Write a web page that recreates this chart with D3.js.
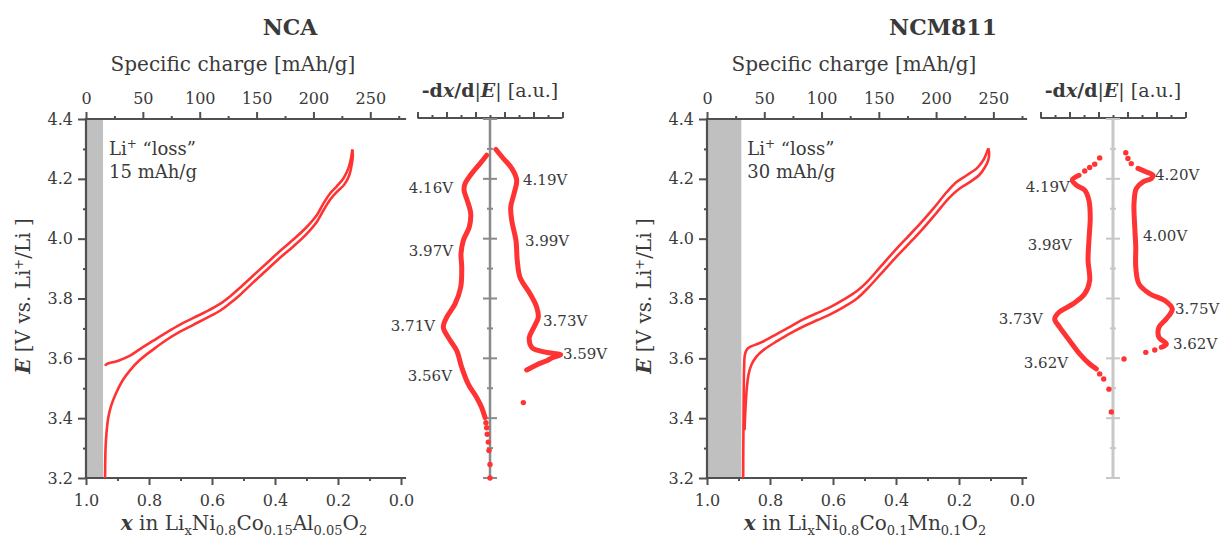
<!DOCTYPE html>
<html>
<head>
<meta charset="utf-8">
<title>NCA / NCM811 charge curves</title>
<script src="https://cdn.jsdelivr.net/npm/d3@7"></script>
<style>
  body { margin: 0; background: #fff; }
  svg text { font-family: Georgia, 'DejaVu Serif', serif; fill: #3a3a3a; }
</style>
</head>
<body>
<svg id="chart" width="1225" height="543"></svg>
<script>
// ---- data: main curves, [specific charge mAh/g, E V]
const ncaCharge = [[16.7,3.575],[18.2,3.581],[28.4,3.592],[38.7,3.609],[47.5,3.631],[59.2,3.659],[71.0,3.687],[82.7,3.713],[94.4,3.735],[106.1,3.757],[117.8,3.782],[126.6,3.807],[135.4,3.836],[147.1,3.877],[158.9,3.918],[170.6,3.959],[182.3,3.997],[194.1,4.039],[202.9,4.078],[208.7,4.117],[214.6,4.151],[220.5,4.175],[226.3,4.201],[230.7,4.235],[233.0,4.268],[234.2,4.298]];
const ncaDischarge = [[234.2,4.298],[234.6,4.275],[233.5,4.245],[231.5,4.212],[227.0,4.180],[221.0,4.158],[214.6,4.130],[208.7,4.094],[202.9,4.056],[194.1,4.016],[182.3,3.974],[170.6,3.936],[158.9,3.895],[147.1,3.854],[135.4,3.812],[126.6,3.784],[117.8,3.759],[106.1,3.735],[94.4,3.712],[82.7,3.689],[71.0,3.662],[59.2,3.630],[47.5,3.595],[38.7,3.560],[32.0,3.525],[26.0,3.480],[22.0,3.440],[19.5,3.400],[18.0,3.350],[17.2,3.300],[16.9,3.250],[16.8,3.200]];
const ncmCharge = [[31.6,3.200],[31.7,3.300],[31.9,3.400],[32.1,3.500],[32.4,3.570],[33.0,3.610],[34.5,3.628],[37.5,3.638],[42.0,3.645],[49.5,3.657],[61.2,3.682],[72.8,3.706],[84.4,3.731],[96.1,3.751],[107.6,3.771],[119.2,3.796],[130.9,3.825],[139.6,3.855],[151.2,3.905],[162.8,3.955],[174.5,4.003],[186.1,4.050],[197.7,4.101],[209.4,4.156],[218.1,4.190],[226.8,4.212],[235.5,4.235],[241.3,4.263],[245.6,4.302]];
const ncmDischarge = [[245.6,4.302],[246.3,4.285],[245.5,4.262],[242.5,4.238],[237.5,4.212],[229.0,4.188],[220.0,4.166],[211.0,4.135],[199.0,4.080],[187.0,4.027],[175.5,3.980],[163.5,3.932],[152.0,3.883],[140.5,3.835],[131.5,3.802],[120.0,3.773],[108.0,3.748],[96.5,3.728],[85.0,3.708],[73.0,3.684],[61.5,3.658],[50.0,3.630],[43.0,3.605],[39.0,3.580],[36.5,3.550],[35.0,3.510],[34.0,3.460],[33.3,3.410],[32.8,3.360]];

// ---- data: -dx/d|E| curves, [E V, value a.u.] (negative = left branch)
const ncaDxLeft = [[4.279,-0.23],[4.251,-0.69],[4.218,-1.26],[4.184,-1.72],[4.162,-1.79],[4.128,-1.57],[4.084,-1.33],[4.039,-1.43],[3.994,-1.84],[3.950,-2.00],[3.905,-1.95],[3.838,-2.02],[3.782,-2.41],[3.737,-2.99],[3.704,-3.22],[3.670,-2.88],[3.626,-2.30],[3.570,-1.95],[3.514,-1.50],[3.469,-0.92],[3.435,-0.57],[3.402,-0.34]];
const ncaDxLeftDots = [[3.385,-0.28],[3.368,-0.23],[3.346,-0.19],[3.320,-0.12],[3.292,-0.07],[3.245,0.0],[3.200,0.0]];
const ncaDxRight = [[4.298,0.41],[4.268,0.92],[4.235,1.50],[4.196,1.84],[4.151,1.66],[4.106,1.43],[4.061,1.50],[3.994,1.79],[3.927,1.88],[3.871,2.07],[3.816,2.76],[3.771,3.22],[3.737,3.33],[3.704,3.03],[3.670,2.71],[3.637,2.88],[3.624,3.50],[3.617,4.30],[3.612,4.87],[3.602,4.30],[3.592,3.91],[3.578,3.20],[3.561,2.53]];
const ncaDxRightDots = [[3.452,2.30]];
const ncmDxLeft = [[4.212,-2.34],[4.196,-2.81],[4.179,-2.53],[4.162,-1.95],[4.128,-1.66],[4.073,-1.57],[3.994,-1.66],[3.927,-1.72],[3.860,-1.61],[3.816,-1.95],[3.782,-2.76],[3.754,-3.72],[3.732,-4.02],[3.704,-3.68],[3.659,-2.99],[3.615,-2.30],[3.581,-1.61],[3.565,-1.15]];
const ncmDxLeftDots = [[4.270,-0.92],[4.249,-1.26],[4.238,-1.61],[4.226,-1.95],[3.548,-0.92],[3.531,-0.64],[3.497,-0.28],[3.421,-0.12]];
const ncmDxRight = [[4.235,1.72],[4.223,2.30],[4.212,2.76],[4.201,2.64],[4.190,2.07],[4.168,1.61],[4.117,1.45],[4.039,1.50],[3.972,1.57],[3.905,1.57],[3.849,1.79],[3.816,2.53],[3.793,3.57],[3.765,4.09],[3.732,3.68],[3.704,3.17],[3.670,3.17],[3.648,3.68],[3.637,3.33]];
const ncmDxRightDots = [[4.287,0.88],[4.268,1.03],[4.251,1.26],[3.628,2.88],[3.620,2.26],[3.598,0.76]];

// ---- peak annotations: [text, E, value]
const ncaPeaks = [['4.16V',4.169,-2.55],['3.97V',3.961,-2.55],['3.71V',3.710,-3.79],['3.56V',3.542,-2.62],
                  ['4.19V',4.196,2.28],['3.99V',3.994,2.41],['3.73V',3.726,3.66],['3.59V',3.616,5.03]];
const ncmPeaks = [['4.19V',4.172,-2.97],['3.98V',3.978,-2.83],['3.73V',3.733,-4.83],['3.62V',3.585,-3.10],
                  ['4.20V',4.212,2.90],['4.00V',4.011,2.07],['3.75V',3.767,4.28],['3.62V',3.649,4.14]];

// ---- ticks
const eMajor = d3.range(16, 23).map(v => v / 5);      // 3.2 .. 4.4
const eMinor = d3.range(33, 44, 2).map(v => v / 10);  // 3.3 .. 4.3
const capMajor = [0, 50, 100, 150, 200, 250];
const capMinor = [25, 75, 125, 175, 225, 275];
const liMajor = [1.0, 0.8, 0.6, 0.4, 0.2, 0.0];
const liMinor = [0.9, 0.7, 0.5, 0.3, 0.1];
const dxMajor = [-5, -3, -1, 1, 3, 5];
const dxMinor = [-4, -2, 0, 2, 4];

const RED = '#ff3333';
const AX = '#505050';
const fmt = d3.format('.1f');

const svg = d3.select('#chart');
const yE = d3.scaleLinear().domain([3.2, 4.4]).range([478, 119]);

function styleAxis(g, size) {
  g.attr('font-family', null).attr('font-size', size || 16);
  g.select('.domain').remove();
  g.selectAll('line').attr('stroke', AX).attr('stroke-width', 2);
}

function drawPanel(p) {
  const g = svg.append('g');
  const W = 315;
  const cap = d3.scaleLinear().domain([0, p.capMax]).range([p.left, p.left + W]);
  const li = d3.scaleLinear().domain([1, 0]).range([p.left, p.left + W]);
  const dx = d3.scaleLinear().domain([-5, 5]).range([p.dCenter - 72.5, p.dCenter + 72.5]);

  // Li loss band
  g.append('rect')
    .attr('x', cap(0)).attr('y', yE(4.4))
    .attr('width', cap(p.loss) - cap(0)).attr('height', yE(3.2) - yE(4.4))
    .attr('fill', '#c0c0c0');

  // axes
  g.append('g').attr('transform', `translate(${p.left},0)`)
    .call(d3.axisLeft(yE).tickValues(eMajor).tickSize(8).tickPadding(5).tickFormat(fmt)).call(styleAxis);
  g.append('g').attr('transform', `translate(${p.left},0)`)
    .call(d3.axisLeft(yE).tickValues(eMinor).tickSize(3).tickFormat('')).call(styleAxis);
  g.append('g').attr('transform', `translate(0,${yE(4.4)})`)
    .call(d3.axisTop(cap).tickValues(capMajor).tickSize(7).tickPadding(8)).call(styleAxis);
  g.append('g').attr('transform', `translate(0,${yE(4.4)})`)
    .call(d3.axisTop(cap).tickValues(capMinor).tickSize(3).tickFormat('')).call(styleAxis);
  g.append('g').attr('transform', `translate(0,${yE(3.2)})`)
    .call(d3.axisBottom(li).tickValues(liMajor).tickSize(7).tickPadding(10).tickFormat(fmt)).call(styleAxis);
  g.append('g').attr('transform', `translate(0,${yE(3.2)})`)
    .call(d3.axisBottom(li).tickValues(liMinor).tickSize(3).tickFormat('')).call(styleAxis);

  const frame = [[p.left, yE(4.4), p.left + W + 4, yE(4.4)],
                 [p.left, yE(3.2), p.left + W + 4, yE(3.2)],
                 [p.left, yE(4.4), p.left, yE(3.2)]];
  g.selectAll('.frame').data(frame).enter().append('line')
    .attr('x1', d => d[0]).attr('y1', d => d[1]).attr('x2', d => d[2]).attr('y2', d => d[3])
    .attr('stroke', AX).attr('stroke-width', 2.2).attr('stroke-linecap', 'square');

  // main curves
  const line = d3.line().x(d => cap(d[0])).y(d => yE(d[1])).curve(d3.curveCatmullRom);
  [p.charge, p.discharge].forEach(s => {
    g.append('path').attr('d', line(s)).attr('fill', 'none')
      .attr('stroke', RED).attr('stroke-width', 2.6).attr('stroke-linejoin', 'round');
  });

  // titles
  g.append('text').attr('x', p.titleX).attr('y', 35).attr('text-anchor', 'middle')
    .attr('font-size', 22).attr('font-weight', 'bold').text(p.title);
  g.append('text').attr('x', p.left + 147).attr('y', 71).attr('text-anchor', 'middle')
    .attr('font-size', 20).text('Specific charge [mAh/g]');

  const yt = g.append('text').attr('transform', `translate(${p.left - 56},296) rotate(-90)`)
    .attr('text-anchor', 'middle').attr('font-size', 20);
  yt.append('tspan').attr('font-weight', 'bold').attr('font-style', 'italic').text('E');
  yt.append('tspan').text(' [V vs. Li');
  yt.append('tspan').attr('font-size', 13).attr('dy', -7).text('+');
  yt.append('tspan').attr('dy', 7).text('/Li ]');

  // x in Li_x... with subscripts; each main part resets the baseline of the previous subscript
  const xt = g.append('text').attr('x', p.left + 158).attr('y', 530)
    .attr('text-anchor', 'middle').attr('font-size', 20);
  xt.append('tspan').attr('font-weight', 'bold').attr('font-style', 'italic').text('x');
  p.formula.forEach(([main, sub], i) => {
    xt.append('tspan').attr('dy', i > 0 ? -5 : 0).text(main);
    xt.append('tspan').attr('font-size', 13).attr('dy', 5).text(sub);
  });

  const lt = g.append('text').attr('x', cap(p.loss) + 6).attr('y', 155).attr('font-size', 18);
  lt.append('tspan').text('Li');
  lt.append('tspan').attr('font-size', 12).attr('dy', -7).text('+');
  lt.append('tspan').attr('dy', 7).text(' \u201Closs\u201D');
  g.append('text').attr('x', cap(p.loss) + 6).attr('y', 178).attr('font-size', 18)
    .text(p.loss + ' mAh/g');

  // -dx/d|E| panel
  g.append('g').attr('transform', `translate(0,${yE(4.4) - 1})`)
    .call(d3.axisTop(dx).tickValues(dxMajor).tickSize(6).tickFormat('')).call(styleAxis);
  g.append('g').attr('transform', `translate(0,${yE(4.4) - 1})`)
    .call(d3.axisTop(dx).tickValues(dxMinor).tickSize(3).tickFormat('')).call(styleAxis);
  g.append('line').attr('x1', dx(-5)).attr('x2', dx(5)).attr('y1', yE(4.4) - 1).attr('y2', yE(4.4) - 1)
    .attr('stroke', AX).attr('stroke-width', 2.2);

  g.append('line').attr('x1', dx(0)).attr('x2', dx(0)).attr('y1', yE(4.4) - 1).attr('y2', yE(3.2))
    .attr('stroke', p.vColor).attr('stroke-width', p.vWidth);
  const vt = eMajor.map(e => [e, 7]).concat(eMinor.map(e => [e, 3]));
  g.selectAll('.vtick').data(vt).enter().append('line')
    .attr('x1', d => dx(0) - d[1]).attr('x2', d => dx(0) + d[1])
    .attr('y1', d => yE(d[0])).attr('y2', d => yE(d[0]))
    .attr('stroke', p.vColor).attr('stroke-width', 2);

  const dt = g.append('text').attr('x', dx(0)).attr('y', 97).attr('text-anchor', 'middle').attr('font-size', 19);
  dt.append('tspan').attr('font-weight', 'bold').text('-d');
  dt.append('tspan').attr('font-weight', 'bold').attr('font-style', 'italic').text('x');
  dt.append('tspan').attr('font-weight', 'bold').text('/d');
  dt.append('tspan').text('|');
  dt.append('tspan').attr('font-weight', 'bold').attr('font-style', 'italic').text('E');
  dt.append('tspan').text('| [a.u.]');

  const dline = d3.line().x(d => dx(d[1])).y(d => yE(d[0])).curve(d3.curveCatmullRom);
  [p.dxLeft, p.dxRight].forEach(s => {
    g.append('path').attr('d', dline(s)).attr('fill', 'none')
      .attr('stroke', RED).attr('stroke-width', 5)
      .attr('stroke-linecap', 'round').attr('stroke-linejoin', 'round');
  });
  g.selectAll('.dot').data(p.dxDots).enter().append('circle')
    .attr('cx', d => dx(d[1])).attr('cy', d => yE(d[0])).attr('r', 2.7).attr('fill', RED);

  g.selectAll('.peak').data(p.peaks).enter().append('text')
    .attr('x', d => dx(d[2])).attr('y', d => yE(d[1])).attr('dy', '0.35em')
    .attr('text-anchor', d => d[2] < 0 ? 'end' : 'start')
    .attr('font-size', 15).text(d => d[0]);
}

drawPanel({
  left: 86, capMax: 277, loss: 15, title: 'NCA', titleX: 290, dCenter: 490,
  vColor: '#8a8a8a', vWidth: 2.5,
  charge: ncaCharge, discharge: ncaDischarge,
  dxLeft: ncaDxLeft, dxRight: ncaDxRight, dxDots: ncaDxLeftDots.concat(ncaDxRightDots),
  peaks: ncaPeaks,
  formula: [[' in Li', 'x'], ['Ni', '0.8'], ['Co', '0.15'], ['Al', '0.05'], ['O', '2']]
});
drawPanel({
  left: 707, capMax: 275, loss: 30, title: 'NCM811', titleX: 943, dCenter: 1113,
  vColor: '#c8c8c8', vWidth: 3,
  charge: ncmCharge, discharge: ncmDischarge,
  dxLeft: ncmDxLeft, dxRight: ncmDxRight, dxDots: ncmDxLeftDots.concat(ncmDxRightDots),
  peaks: ncmPeaks,
  formula: [[' in Li', 'x'], ['Ni', '0.8'], ['Co', '0.1'], ['Mn', '0.1'], ['O', '2']]
});
</script>
</body>
</html>
